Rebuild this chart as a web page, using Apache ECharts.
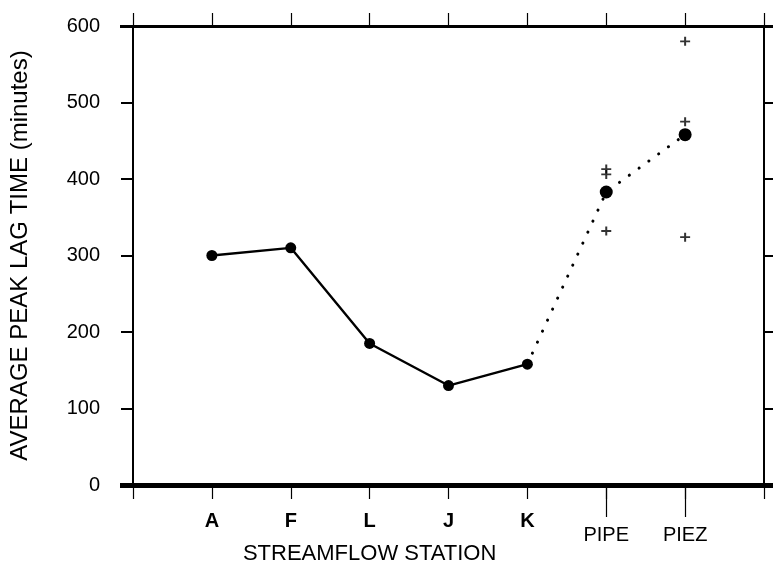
<!DOCTYPE html>
<html>
<head>
<meta charset="utf-8">
<script src="https://cdn.jsdelivr.net/npm/echarts@6/dist/echarts.min.js"></script>
<style>
html,body{margin:0;padding:0;background:#fff;}
#chart{width:773px;height:565px;}
</style>
</head>
<body>
<div id="chart"></div>
<script>
// ---- data ----
const tickLabels = ['', 'A', 'F', 'L', 'J', 'K', 'PIPE', 'PIEZ', ''];
const streamStations = ['A', 'F', 'L', 'J', 'K'];
const streamLag = [300, 310, 185, 130, 158];
const wellStations = ['PIPE', 'PIEZ'];
const wellMeanLag = [383, 458];
const pipeSamples = [413, 406, 332];
const piezSamples = [580, 475, 324];
const xTitle = 'STREAMFLOW STATION';
const yTitle = 'AVERAGE PEAK LAG TIME (minutes)';
const yTicks = [0, 100, 200, 300, 400, 500, 600];

const FONT = '"Liberation Sans", Arial, Helvetica, sans-serif';
const pos = name => tickLabels.indexOf(name);

const streamData = streamStations.map((s, i) => [pos(s), streamLag[i]]);
const lastStream = streamStations[streamStations.length - 1];
const dottedData = [{value: [pos(lastStream), streamLag[streamLag.length - 1]], symbol: 'none'}]
  .concat(wellStations.map((s, i) => [pos(s), wellMeanLag[i]]));
const sampleData = pipeSamples.map(v => [pos('PIPE'), v])
  .concat(piezSamples.map(v => [pos('PIEZ'), v]));

const plusPath = 'path://M0,4H10V6H0Z M4,0H6V10H4Z';

const chart = echarts.init(document.getElementById('chart'), null, {renderer: 'canvas'});
const black = '#000';
const xMin = 0, xMax = tickLabels.length - 1;
const yMin = yTicks[0], yMax = yTicks[yTicks.length - 1];

const baseX = {type: 'value', min: xMin, max: xMax, interval: 1, splitLine: {show: false}};
const baseY = {type: 'value', min: yMin, max: yMax, interval: 100, splitLine: {show: false}};

chart.setOption({
  backgroundColor: '#fff',
  animation: false,
  grid: {left: 130, right: 9, top: 26, bottom: 77, containLabel: false},
  xAxis: [
    Object.assign({}, baseX, {
      position: 'bottom',
      axisLine: {show: true, onZero: false, lineStyle: {color: black, width: 5}},
      axisTick: {show: true, inside: false, length: 14, lineStyle: {color: black, width: 1.2}},
      axisLabel: {
        show: true, margin: 25, color: black, fontFamily: FONT,
        formatter: function (v) {
          const s = tickLabels[Math.round(v)] || '';
          if (!s) return '';
          if (s === 'L') return '{a|' + s + '}\n{t|' + xTitle + '}';
          if (wellStations.indexOf(s) >= 0) return '{p|' + s + '}';
          return '{a|' + s + '}';
        },
        rich: {
          a: {fontSize: 20, fontWeight: 'bold', lineHeight: 22, fontFamily: FONT, color: black},
          t: {fontSize: 22, lineHeight: 44, fontFamily: FONT, color: black},
          p: {fontSize: 20, lineHeight: 22, fontFamily: FONT, color: black, padding: [28, 0, 0, 0]}
        }
      }
    }),
    Object.assign({}, baseX, {
      position: 'bottom',
      axisLine: {show: false, onZero: false},
      axisTick: {show: true, inside: false, length: 32, customValues: wellStations.map(pos), lineStyle: {color: black, width: 1.2}},
      axisLabel: {show: false}
    }),
    Object.assign({}, baseX, {
      position: 'top',
      axisLine: {show: true, onZero: false, lineStyle: {color: black, width: 3}},
      axisTick: {show: true, inside: false, length: 13, lineStyle: {color: black, width: 1.2}},
      axisLabel: {show: false}
    })
  ],
  yAxis: [
    Object.assign({}, baseY, {
      position: 'left',
      axisLine: {show: true, onZero: false, lineStyle: {color: black, width: 2}},
      axisTick: {show: true, inside: false, length: 12, lineStyle: {color: black, width: 2}},
      axisLabel: {show: true, margin: 33, fontSize: 20, color: black, fontFamily: FONT},
      name: yTitle, nameLocation: 'middle', nameGap: 101, nameRotate: 90,
      nameTextStyle: {fontSize: 24, color: black, fontFamily: FONT}
    }),
    Object.assign({}, baseY, {
      position: 'right',
      axisLine: {show: true, onZero: false, lineStyle: {color: black, width: 2}},
      axisTick: {show: true, inside: false, length: 9, lineStyle: {color: black, width: 2}},
      axisLabel: {show: false}
    }),
    Object.assign({}, baseY, {
      position: 'left',
      axisLine: {show: false, onZero: false},
      axisTick: {show: true, inside: false, length: 13, customValues: [yMin], lineStyle: {color: black, width: 5}},
      axisLabel: {show: false}
    }),
    Object.assign({}, baseY, {
      position: 'left',
      axisLine: {show: false, onZero: false},
      axisTick: {show: true, inside: false, length: 13, customValues: [yMax], lineStyle: {color: black, width: 3}},
      axisLabel: {show: false}
    }),
    Object.assign({}, baseY, {
      position: 'right',
      axisLine: {show: false, onZero: false},
      axisTick: {show: true, inside: false, length: 10, customValues: [yMin], lineStyle: {color: black, width: 5}},
      axisLabel: {show: false}
    }),
    Object.assign({}, baseY, {
      position: 'right',
      axisLine: {show: false, onZero: false},
      axisTick: {show: true, inside: false, length: 10, customValues: [yMax], lineStyle: {color: black, width: 3}},
      axisLabel: {show: false}
    })
  ],
  series: [
    {
      name: 'wells', type: 'line', xAxisIndex: 0, yAxisIndex: 0,
      data: dottedData,
      symbol: 'circle', symbolSize: 13,
      itemStyle: {color: black},
      lineStyle: {color: black, width: 3, type: [0.1, 12], cap: 'round'},
      z: 3
    },
    {
      name: 'stream', type: 'line', xAxisIndex: 0, yAxisIndex: 0,
      data: streamData,
      symbol: 'circle', symbolSize: 11,
      itemStyle: {color: black},
      lineStyle: {color: black, width: 2.4},
      z: 4
    },
    {
      name: 'samples', type: 'scatter', xAxisIndex: 0, yAxisIndex: 0,
      data: sampleData,
      symbol: plusPath, symbolSize: [10, 9],
      itemStyle: {color: black},
      z: 5
    }
  ]
});
</script>
</body>
</html>
